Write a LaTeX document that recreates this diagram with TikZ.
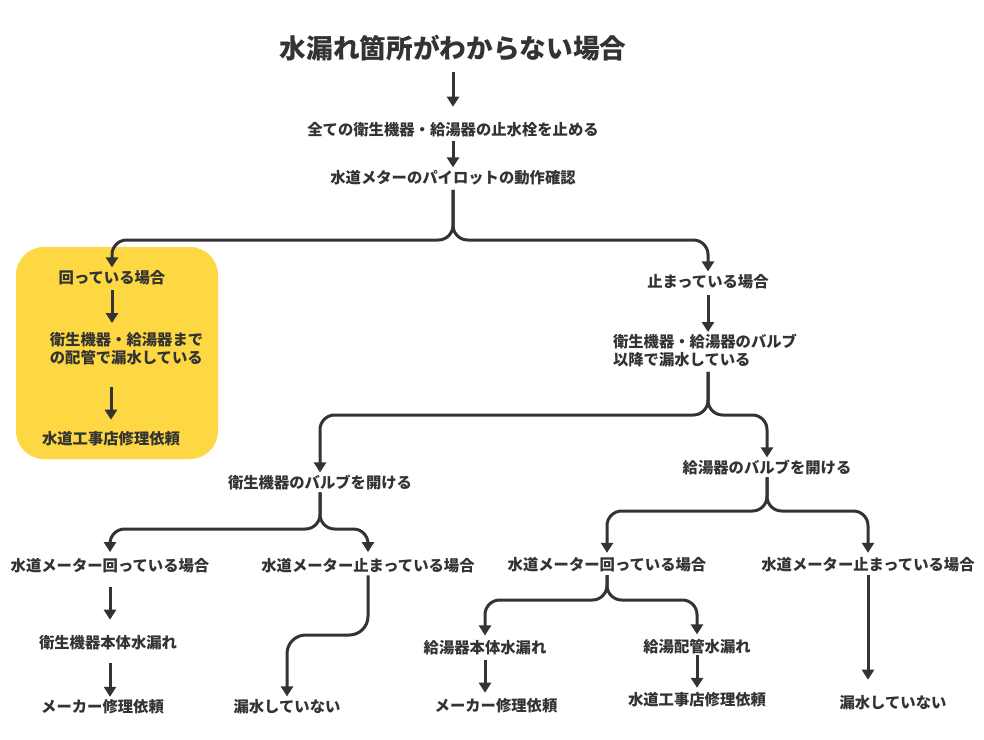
\documentclass[tikz,border=0pt]{standalone}
\usepackage{fontspec}
\setmainfont{Noto Sans CJK JP}
\usetikzlibrary{arrows.meta}
\definecolor{ink}{RGB}{51,51,51}
\definecolor{hilite}{RGB}{253,216,67}

\begin{document}
\begin{tikzpicture}[x=0.75pt,y=0.75pt,yscale=-1,xscale=1,
  txt/.style={inner sep=0pt, text=ink, font=\bfseries\fontsize{11.5}{13.5}\selectfont, text height=10.1pt, text depth=1.4pt},
  twoline/.style={inner sep=0pt, text=ink, font=\bfseries\fontsize{11.5}{13.5}\selectfont, align=left},
  hdr/.style={inner sep=0pt, text=ink, font=\bfseries\fontsize{20}{24}\selectfont, text height=17.6pt, text depth=2.4pt},
  arr/.style={draw=ink, line width=2.25pt, -{Triangle[length=7.5pt,width=9pt]}, shorten <=2pt, shorten >=2pt},
  fork/.style={arr, rounded corners=11pt}]
%set diagram size to 984 x 739
\useasboundingbox (0,0) rectangle (984,739);
\fill [white] (0,0) rectangle (984,739);

%Shape: Rounded Rect
\fill [hilite, rounded corners=21pt] (16,247) rectangle (218,459);

% Text Node
\draw (453,48) node (title) [hdr] {水漏れ箇所がわからない場合};
% Text Node
\draw (453,130) node (stopall) [txt] {全ての衛生機器・給湯器の止水栓を止める};
% Text Node
\draw (453,178) node (pilot) [txt] {水道メターのパイロットの動作確認};
% Text Node
\draw (112,278) node (turning) [txt] {回っている場合};
% Text Node
\draw (126.5,349) node (pipeleak) [twoline] {衛生機器・給湯器まで\\の配管で漏水している};
% Text Node
\draw (111,439) node (plumber) [txt] {水道工事店修理依頼};
% Text Node
\draw (708,282) node (stopped) [txt] {止まっている場合};
% Text Node
\draw (705,351) node (valveleak) [twoline] {衛生機器・給湯器のバルブ\\以降で漏水している};
% Text Node
\draw (320,483) node (opensan) [txt] {衛生機器のバルブを開ける};
% Text Node
\draw (767,468) node (openheat) [txt] {給湯器のバルブを開ける};
% Text Node
\draw (110,566) node (santurn) [txt] {水道メーター回っている場合};
% Text Node
\draw (368,566) node (sanstop) [txt] {水道メーター止まっている場合};
% Text Node
\draw (108,643) node (sanbody) [txt] {衛生機器本体水漏れ};
% Text Node
\draw (102.5,707) node (sanmaker) [txt] {メーカー修理依頼};
% Text Node
\draw (287,707) node (sannone) [txt] {漏水していない};
% Text Node
\draw (607,565) node (heatturn) [txt] {水道メーター回っている場合};
% Text Node
\draw (868,565) node (heatstop) [txt] {水道メーター止まっている場合};
% Text Node
\draw (485,648) node (heatbody) [txt] {給湯器本体水漏れ};
% Text Node
\draw (496,706) node (heatmaker) [txt] {メーカー修理依頼};
% Text Node
\draw (697,647) node (heatpipe) [txt] {給湯配管水漏れ};
% Text Node
\draw (697,700) node (heatplumber) [txt] {水道工事店修理依頼};
% Text Node
\draw (893,703) node (heatnone) [txt] {漏水していない};

% fork points
\coordinate (fork1) at (453,240);
\coordinate (fork2) at (708,415);
\coordinate (fork3) at (320,529);
\coordinate (fork4) at (767,511);
\coordinate (fork5) at (607,600);
\coordinate (bend1) at (368,635);

%Straight Lines
\draw [arr, shorten <=8pt, shorten >=11.5pt] (title.south) -- (stopall.north);
\draw [arr] (stopall.south) -- (pilot.north);
%Branch Lines
\draw [fork, shorten <=3pt] (pilot.south) -- (fork1) -| (turning.north);
\draw [fork, shorten <=3pt] (pilot.south) -- (fork1) -| (stopped.north);
%Straight Lines
\draw [arr, shorten <=3.2pt, shorten >=7pt] (turning.south) -- (turning.south |- pipeleak.north);
\draw [arr, shorten <=16pt, shorten >=8.5pt] (plumber.north |- pipeleak.south) -- (plumber.north);
\draw [arr, shorten <=4pt, shorten >=1.7pt] (stopped.south) -- (stopped.south |- valveleak.north);
%Branch Lines
\draw [fork, shorten <=3.2pt] (stopped.south |- valveleak.south) -- (fork2) -| (opensan.north);
\draw [fork, shorten <=3.2pt] (stopped.south |- valveleak.south) -- (fork2) -| (openheat.north);
\draw [fork, shorten <=1pt, shorten >=4.5pt] (opensan.south) -- (fork3) -| (santurn.north);
\draw [fork, shorten <=1pt, shorten >=4.5pt] (opensan.south) -- (fork3) -| (sanstop.north);
\draw [fork, shorten <=1pt, shorten >=3.2pt] (openheat.south) -- (fork4) -| (heatturn.north);
\draw [fork, shorten <=1pt, shorten >=3.2pt] (openheat.south) -- (fork4) -| (heatstop.north);
%Straight Lines
\draw [arr, shorten <=10pt, shorten >=11.5pt] (santurn.south) -- (santurn.south |- sanbody.north);
\draw [arr, shorten <=9pt, shorten >=1.7pt] (sanbody.south -| santurn) -- (sanmaker.north -| santurn);
\draw [fork, rounded corners=14pt, shorten <=1pt] (sanstop.south) -- (bend1) -| (sannone.north);
%Branch Lines
\draw [fork, shorten <=1.7pt, shorten >=3.5pt] (heatturn.south) -- (fork5) -| (heatbody.north);
\draw [fork, shorten <=1.7pt, shorten >=3.5pt] (heatturn.south) -- (fork5) -| (heatpipe.north);
%Straight Lines
\draw [arr, shorten <=3.2pt, shorten >=4pt] (heatbody.south) -- (heatbody.south |- heatmaker.north);
\draw [arr, shorten <=0pt, shorten >=3.2pt] (heatpipe.south) -- (heatplumber.north);
\draw [arr, shorten <=1.7pt, shorten >=11.5pt] (heatstop.south) -- (heatstop.south |- heatnone.north);

\end{tikzpicture}
\end{document}
